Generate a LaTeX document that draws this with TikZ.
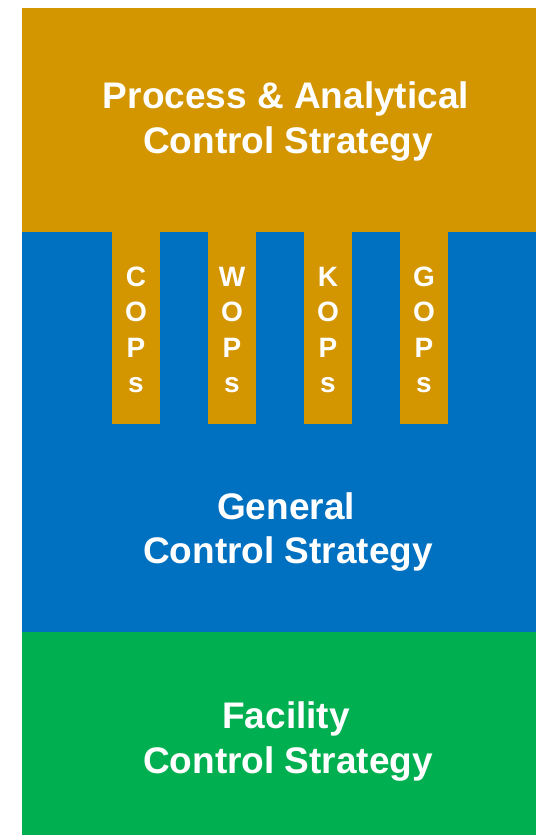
\documentclass[tikz,border=0pt]{standalone}
\usepackage{fontspec}
\setmainfont{Liberation Sans}
\definecolor{gold}{RGB}{211,149,0}
\definecolor{midblue}{RGB}{0,112,192}
\definecolor{leafgreen}{RGB}{0,176,80}
\begin{document}
\begin{tikzpicture}[x=1pt,y=-1pt,
  blocktext/.style={text=white,font=\fontsize{37}{45}\selectfont\bfseries,anchor=base,inner sep=0pt},
  tabtext/.style={text=white,font=\fontsize{28}{36}\selectfont\bfseries,anchor=base,inner sep=0pt}]
\useasboundingbox (0,0) rectangle (536,835);
\fill[gold] (22,8) rectangle (536,232);
\fill[midblue] (22,232) rectangle (536,632);
\fill[leafgreen] (22,632) rectangle (536,835);
\foreach \x/\l [count=\i] in {136/C,232/W,328/K,424/G}{
  \fill[gold] (\x-24,231) rectangle (\x+24,424);
  \node[tabtext] (t\i a) at (\x,286) {\l};
  \node[tabtext] (t\i b) at (\x,321.5) {O};
  \node[tabtext] (t\i c) at (\x,357) {P};
  \node[tabtext] (t\i d) at (\x,392.5) {s};
}
\node[blocktext] (p1) at (286,108) {Process \& Analytical};
\node[blocktext] (p2) at (288,153) {Control Strategy};
\node[blocktext] (g1) at (286,519) {General};
\node[blocktext] (g2) at (288,563) {Control Strategy};
\node[blocktext] (f1) at (286,728) {Facility};
\node[blocktext] (f2) at (288,773) {Control Strategy};
\end{tikzpicture}
\end{document}
